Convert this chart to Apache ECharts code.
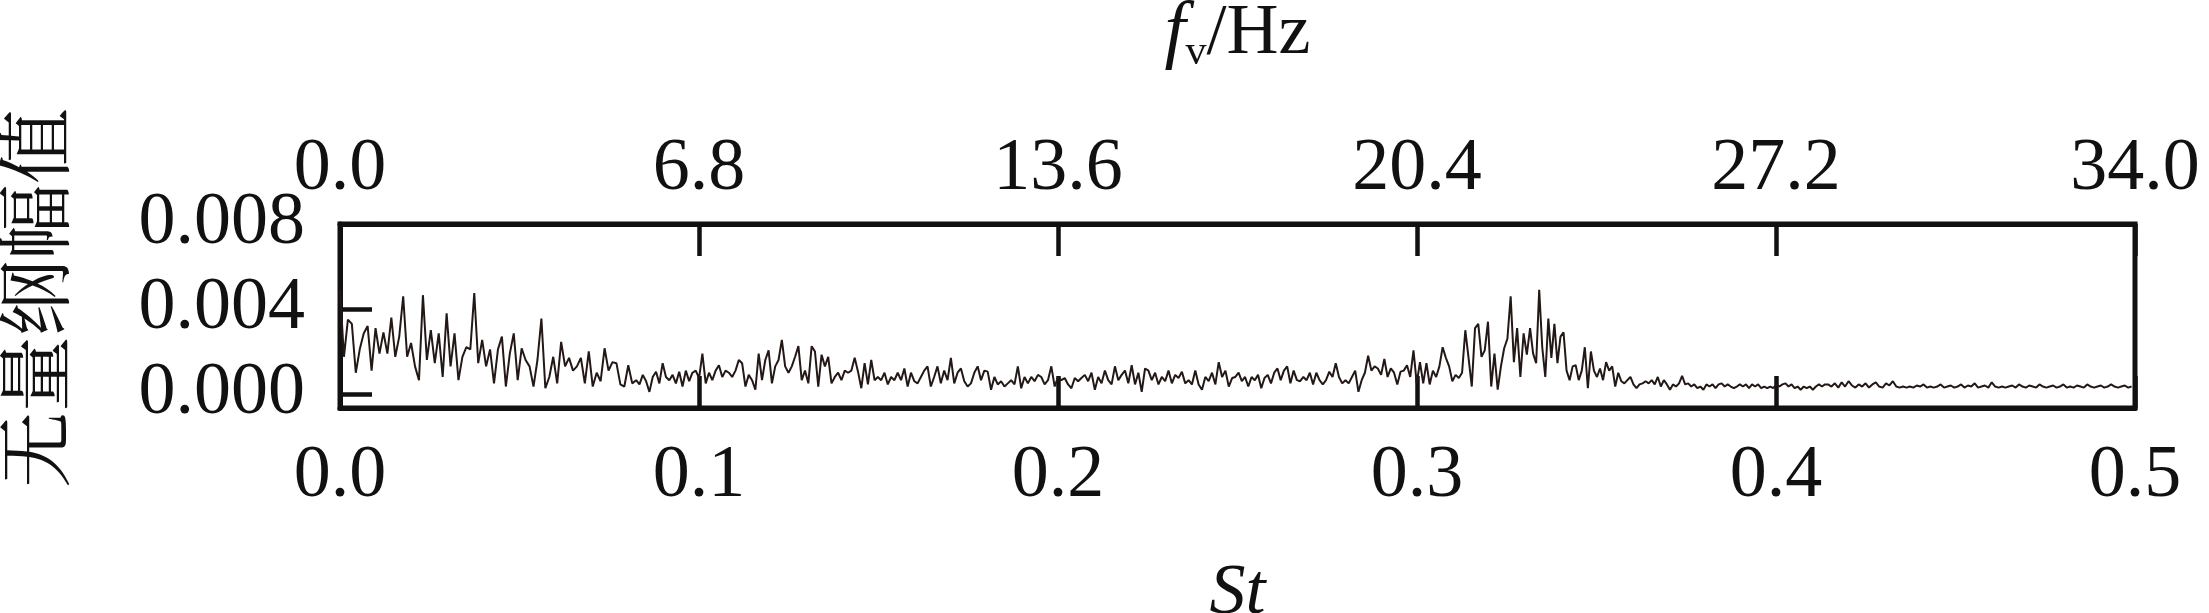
<!DOCTYPE html>
<html>
<head>
<meta charset="utf-8">
<script src="https://cdn.jsdelivr.net/npm/echarts@6/dist/echarts.min.js"></script>
<style>
html,body{margin:0;padding:0;background:#fff;}
#chart{width:2209px;height:613px;}
</style>
</head>
<body>
<div id="chart"></div>
<script>
// St segment boundaries (each amplitude array spans one segment, evenly spaced)
const ST_EDGES = [0, 0.0825, 0.1655, 0.2485, 0.3315, 0.4145, 0.5];
// Dimensionless amplitude, in units of 1e-3
const AMP_A = [4.9,1.75,3.5,3.3,1.0,2.1,2.85,3.2,1.1,3.1,1.9,2.9,1.9,3.6,1.75,2.7,4.6,1.75,2.4,1.3,0.65,4.65,1.6,3.0,1.45,2.85,0.8,3.8,1.3,2.85,0.65,1.75,2.2,2.1,4.75,1.45,2.55,1.3,2.1,0.5,2.1,2.7,0.35,1.9,2.85,0.65,2.15,1.6,1.3,0.35,1.6,3.55,0.27,0.8,1.75,0.5,2.45,1.3,1.7,1.1,1.3,1.7,0.5,2.0,0.35,1.0,0.6,2.15,1.1,1.5,1.45,0.45,0.35,1.35,0.5];
const AMP_B = [0.65,0.45,0.9,0.6,0.1,0.8,1.05,0.5,1.45,0.8,0.65,0.9,0.5,1.05,0.35,1.1,0.6,1.0,1.1,0.75,1.9,0.5,1.0,0.65,1.1,1.35,0.8,1.1,1.0,0.8,1.1,1.6,1.45,0.35,0.9,0.65,0.2,1.9,0.65,1.6,2.05,0.5,1.3,1.6,2.55,1.3,1.0,1.3,1.75,2.25,0.65,1.1,0.5,2.25,2.0,0.35,1.85,1.3,1.75,0.5,0.8,1.0,0.65,1.1,1.0,1.1,1.7,1.05,0.27,1.45,0.45,1.6,0.65,0.8,0.65,1.0,0.45,0.8,0.65,1.0,0.65,1.2,0.35,1.0,0.6,0.5,0.8,1.1,1.3,0.35];
const AMP_C = [0.8,1.3,0.5,1.1,0.65,1.7,0.5,1.0,1.2,0.6,0.35,0.5,1.0,1.3,0.65,1.1,1.05,0.2,0.8,0.45,0.6,0.35,0.5,0.65,0.45,1.3,0.27,0.8,0.5,0.8,0.6,0.9,0.8,0.45,0.65,1.3,0.35,0.8,0.65,0.75,0.45,0.27,0.75,0.6,0.75,0.9,0.6,1.0,0.2,0.8,0.5,1.1,0.65,0.45,1.3,0.65,0.9,1.1,0.5,1.35,0.45,1.0,0.1,1.2,1.1,0.65,1.0,0.45,0.8,0.6,1.1,0.5,0.9,0.75,1.05,0.5,0.65,0.45,1.1,0.45,0.2,0.8,0.6,1.0,0.45,1.5,0.8,1.1,0.35];
const AMP_D = [0.75,0.8,1.0,0.6,0.8,0.35,0.8,0.65,0.9,0.27,0.75,0.9,0.5,1.0,1.2,0.65,1.1,1.3,0.5,1.1,0.65,0.6,0.8,0.65,1.0,0.45,1.0,0.65,0.45,0.65,1.05,0.8,1.45,0.8,0.5,0.65,0.5,0.8,1.1,0.1,0.65,1.0,1.8,1.1,1.3,1.2,0.9,1.65,0.8,1.2,1.0,0.45,1.05,1.1,1.35,0.8,2.05,0.5,1.5,0.5,1.45,0.45,1.1,0.8,1.3,2.2,1.7,1.3,0.6,0.9,0.75,1.0,3.0,1.7,0.35,3.1,3.3,1.75,2.05,3.4,0.35,1.9,0.2,1.3,2.15,2.6,4.6,1.5,3.1,0.8,2.85,1.85];
const AMP_E = [3.1,1.9,1.45,4.9,2.2,0.8,3.55,1.7,3.3,1.45,2.7,2.9,1.1,0.65,1.3,1.35,0.65,1.1,2.2,0.27,2.0,1.1,0.8,1.2,0.65,1.5,1.1,1.3,0.35,1.0,0.6,0.5,0.65,0.8,0.45,0.27,0.45,0.5,0.6,0.5,0.65,0.45,0.8,0.35,0.65,0.45,0.2,0.45,0.35,0.5,0.85,0.45,0.5,0.35,0.45,0.27,0.35,0.2,0.45,0.35,0.45,0.27,0.45,0.5,0.35,0.45,0.35,0.27,0.35,0.45,0.35,0.45,0.27,0.45,0.35,0.45,0.27,0.35,0.27,0.35,0.27,0.45,0.35,0.45,0.5,0.35,0.45,0.27,0.35,0.2,0.35,0.27,0.35,0.2,0.35,0.45,0.35,0.45];
const AMP_F = [0.45,0.35,0.5,0.3,0.55,0.35,0.6,0.4,0.3,0.45,0.35,0.5,0.3,0.45,0.55,0.35,0.3,0.5,0.4,0.6,0.35,0.3,0.35,0.3,0.35,0.3,0.4,0.35,0.45,0.3,0.35,0.3,0.35,0.45,0.3,0.35,0.4,0.3,0.35,0.45,0.3,0.4,0.35,0.5,0.3,0.35,0.4,0.3,0.55,0.35,0.3,0.35,0.3,0.35,0.4,0.3,0.45,0.35,0.3,0.4,0.35,0.3,0.45,0.35,0.3,0.35,0.4,0.3,0.35,0.45,0.3,0.35,0.3,0.4,0.35,0.3,0.45,0.35,0.3,0.35,0.4,0.3,0.35,0.45,0.35,0.3,0.35,0.4,0.3,0.35];

const Y_TICKS = [0, 0.004, 0.008];
const ST_RANGE = [0, 0.5, 0.1];
const FV_RANGE = [0, 34, 6.8];

const SEGMENTS = [AMP_A, AMP_B, AMP_C, AMP_D, AMP_E, AMP_F];
const data = [];
SEGMENTS.forEach((seg, k) => {
  const s = ST_EDGES[k], e = ST_EDGES[k + 1];
  seg.forEach((v, i) => data.push([s + (e - s) * i / seg.length, v * 1e-3]));
});

const SERIF = '"Liberation Serif", "Times New Roman", serif';
const CJK = '"Noto Serif CJK SC", "Noto Sans CJK SC", sans-serif';
const INK = '#111';
const tickStyle = {show: true, inside: true, length: 32, lineStyle: {color: INK, width: 4.5}};

const chart = echarts.init(document.getElementById('chart'));
chart.setOption({
  animation: false,
  backgroundColor: '#fff',
  grid: {left: 340, top: 224, width: 1795, height: 184, containLabel: false, outerBoundsMode: 'none',
         show: true, borderWidth: 5, borderColor: INK, backgroundColor: 'transparent'},
  xAxis: [
    {
      type: 'value', position: 'bottom', min: ST_RANGE[0], max: ST_RANGE[1], interval: ST_RANGE[2],
      axisLine: {show: true, onZero: false, lineStyle: {color: INK, width: 5}},
      axisTick: tickStyle,
      splitLine: {show: false},
      axisLabel: {margin: 32, fontFamily: SERIF, fontSize: 74, color: INK, formatter: v => v.toFixed(1)},
      name: 'St', nameLocation: 'middle', nameGap: 150,
      nameTextStyle: {fontFamily: SERIF, fontStyle: 'italic', fontSize: 72, color: INK}
    },
    {
      type: 'value', position: 'top', min: FV_RANGE[0], max: FV_RANGE[1], interval: FV_RANGE[2],
      axisLine: {show: true, onZero: false, lineStyle: {color: INK, width: 5}},
      axisTick: tickStyle,
      splitLine: {show: false},
      axisLabel: {margin: 17, fontFamily: SERIF, fontSize: 74, color: INK, formatter: v => v.toFixed(1)},
      name: '{f|f}{v|v}{n|/Hz}', nameLocation: 'middle', nameGap: 150,
      nameTextStyle: {
        color: INK,
        rich: {
          f: {fontFamily: SERIF, fontStyle: 'italic', fontSize: 76, lineHeight: 80, color: INK},
          v: {fontFamily: SERIF, fontSize: 42, lineHeight: 30, verticalAlign: 'bottom', color: INK},
          n: {fontFamily: SERIF, fontSize: 72, lineHeight: 80, color: INK}
        }
      }
    }
  ],
  yAxis: {
    type: 'value', min: -0.00066, max: 0.008,
    axisLine: {show: true, onZero: false, lineStyle: {color: INK, width: 5}},
    axisTick: Object.assign({customValues: Y_TICKS}, tickStyle),
    splitLine: {show: false},
    axisLabel: {customValues: Y_TICKS, margin: 35, fontFamily: SERIF, fontSize: 74, color: INK, formatter: v => v.toFixed(3)},
    name: '无量纲幅值', nameLocation: 'middle', nameGap: 268,
    nameTextStyle: {fontFamily: CJK, fontSize: 76, color: INK, padding: [0, 0, 0, 36]}
  },
  series: [{
    type: 'line', xAxisIndex: 0, yAxisIndex: 0, data: data,
    showSymbol: false, symbol: 'none', sampling: null,
    lineStyle: {color: '#231815', width: 2}
  }]
});
</script>
</body>
</html>
